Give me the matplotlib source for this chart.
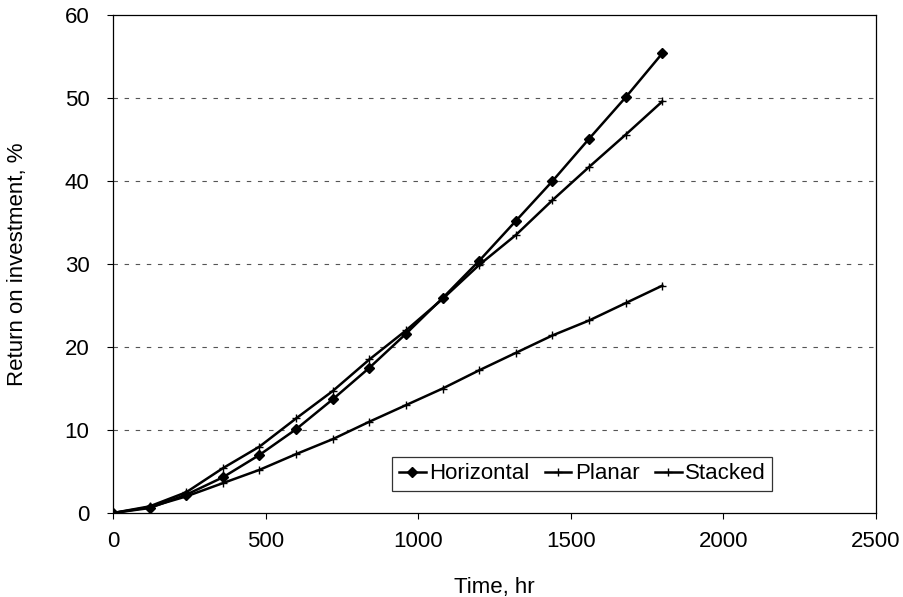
import matplotlib
matplotlib.use("Agg")
import matplotlib.pyplot as plt

time_hr = [0, 120, 240, 360, 480, 600, 720, 840, 960, 1080, 1200, 1320, 1440, 1560, 1680, 1800]
horizontal = [0, 0.6, 2.2, 4.3, 7.0, 10.1, 13.7, 17.5, 21.6, 25.9, 30.4, 35.2, 40.0, 45.1, 50.1, 55.4]
planar = [0, 0.8, 2.5, 5.4, 8.0, 11.4, 14.7, 18.5, 22.0, 25.8, 29.9, 33.5, 37.7, 41.7, 45.6, 49.6]
stacked = [0, 0.7, 2.0, 3.6, 5.2, 7.1, 8.9, 11.0, 13.0, 15.0, 17.2, 19.3, 21.4, 23.2, 25.3, 27.4]
series_names = ["Horizontal", "Planar", "Stacked"]
x_ticks = [0, 500, 1000, 1500, 2000, 2500]
y_ticks = [0, 10, 20, 30, 40, 50, 60]

plt.rcParams['font.family'] = ['Liberation Sans', 'DejaVu Sans']

fig = plt.figure(figsize=(9.04, 5.97), dpi=100)
ax = fig.add_axes([0.125, 0.1407, 0.844, 0.834])

ax.plot(time_hr, horizontal, color='black', lw=1.8, marker='D', ms=5, label=series_names[0])
ax.plot(time_hr, planar, color='black', lw=1.8, marker='+', ms=6, mew=1, label=series_names[1])
ax.plot(time_hr, stacked, color='black', lw=1.8, marker='+', ms=6, mew=1, label=series_names[2])

ax.set_xlim(0, 2500)
ax.set_ylim(0, 60)
ax.set_xticks(x_ticks)
ax.set_yticks(y_ticks)
ax.tick_params(labelsize=16, direction='out', length=4, width=0.8)
ax.tick_params(axis='x', pad=9)
ax.tick_params(axis='y', pad=13)
for y in y_ticks[1:-1]:
    ax.axhline(y, color='#555555', lw=0.8, ls=(0, (4, 6)), zorder=0)
for s in ax.spines.values():
    s.set_linewidth(0.9)
    s.set_color('black')

ax.set_xlabel("Time, hr", fontsize=16, labelpad=18)
ax.set_ylabel("Return on investment, %", fontsize=16, labelpad=26)

leg = ax.legend(loc='lower left', bbox_to_anchor=(0.366, 0.044), ncol=3, fontsize=16,
                frameon=True, fancybox=False, edgecolor='black', handlelength=1.2,
                handletextpad=0.15, columnspacing=0.7, borderpad=0.3, borderaxespad=0)
leg.get_frame().set_linewidth(0.9)

fig.savefig("out.png", dpi=100)
